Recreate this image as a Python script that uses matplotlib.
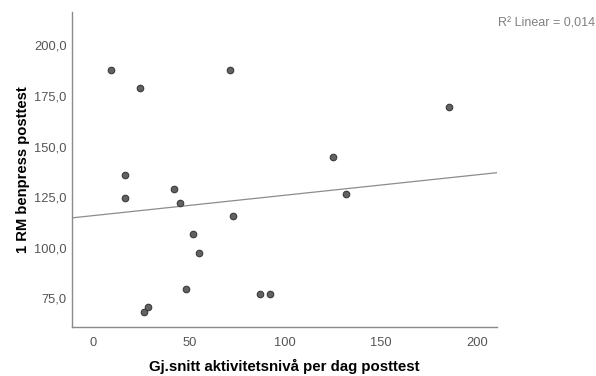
import numpy as np
import matplotlib
matplotlib.use("Agg")
import matplotlib.pyplot as plt
from matplotlib.ticker import FuncFormatter

plt.rcParams['font.family'] = ['Liberation Sans', 'DejaVu Sans']

# average activity level per day (posttest) vs 1 RM bench press (posttest)
aktivitet = [9.3, 24.3, 16.3, 16.3, 42.0, 45.1, 71.0, 72.9, 51.9, 55.0,
             48.1, 26.3, 28.3, 87.0, 91.9, 124.7, 131.8, 185.5]
benpress = [187.6, 178.8, 135.8, 124.6, 129.2, 122.2, 187.6, 115.5, 106.6, 97.5,
            79.6, 68.2, 70.5, 77.3, 77.3, 144.8, 126.7, 169.7]
r2_text = "R² Linear = 0,014"

x = np.array(aktivitet)
y = np.array(benpress)

fig = plt.figure(figsize=(5.96, 3.76), dpi=100)
ax = fig.add_axes([0.1208, 0.1303, 0.7139, 0.8377])

ax.scatter(x, y, s=22, color='#626262', edgecolor='#3a3a3a', linewidth=0.8, zorder=3)

xlim = (-11.2, 210.6)
slope, intercept = np.polyfit(x, y, 1)
xs = np.array(xlim)
ax.plot(xs, slope * xs + intercept, color='#8c8c8c', linewidth=0.9, zorder=2)

ax.set_xlim(*xlim)
ax.set_ylim(60.8, 216.5)
ax.set_xticks([0, 50, 100, 150, 200])
ax.set_yticks([75, 100, 125, 150, 175, 200])
ax.yaxis.set_major_formatter(FuncFormatter(lambda v, p: f"{v:.1f}".replace('.', ',')))

for side in ['top', 'right']:
    ax.spines[side].set_visible(False)
for side in ['left', 'bottom']:
    ax.spines[side].set_color('#8a8a8a')
    ax.spines[side].set_linewidth(1.0)

ax.tick_params(length=0, labelsize=9.3, labelcolor='#555555')
ax.tick_params(axis='x', pad=7)
ax.tick_params(axis='y', pad=4)

ax.set_xlabel("Gj.snitt aktivitetsnivå per dag posttest", fontsize=10.8,
              fontweight='bold', labelpad=7)
ax.set_ylabel("1 RM benpress posttest", fontsize=10.6, fontweight='bold', labelpad=3)

fig.text(0.998, 0.938, r2_text, ha='right', va='center', fontsize=9, color='#808080')

fig.savefig("out.png", dpi=100)
